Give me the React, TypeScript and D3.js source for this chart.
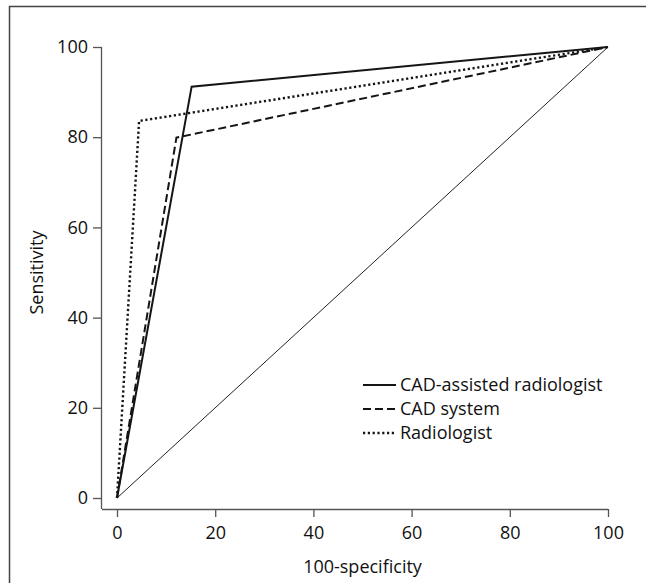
import React, { useEffect, useRef } from 'react'
import * as d3 from 'd3'

const xTicks = [0, 20, 40, 60, 80, 100]
const yTicks = [0, 20, 40, 60, 80, 100]

const seriesNames = ['CAD-assisted radiologist', 'CAD system', 'Radiologist']
const cadAssisted = [[0, 0], [15.2, 91.2], [100, 100]]
const cadSystem = [[0, 0], [12.1, 79.9], [100, 100]]
const radiologist = [[0, 0], [4.5, 83.6], [100, 100]]
const chance = [[0, 0], [100, 100]]

const dashes = ['none', '8,4', '2.2,2.6']
const widths = [2, 2, 2.4]

export default function App() {
  const ref = useRef<SVGSVGElement>(null)

  useEffect(() => {
    const svg = d3.select(ref.current)
    svg.selectAll('*').remove()

    const x = d3.scaleLinear().domain([0, 100]).range([117, 608])
    const y = d3.scaleLinear().domain([0, 100]).range([498, 47])
    const axisX = 102, axisY = 509
    const font = "'Open Sans', sans-serif"
    const axisColor = '#555'
    const fs = 18

    // frame (top and left only)
    svg.append('path')
      .attr('d', 'M9.5,583V6.5H646')
      .attr('fill', 'none')
      .attr('stroke', '#444')
      .attr('stroke-width', 1.5)

    // axes
    const gx = svg.append('g').attr('transform', `translate(0,${axisY})`)
    gx.call(d3.axisBottom(x).tickValues(xTicks).tickSize(8).tickSizeOuter(0))
    gx.select('.domain').attr('d', `M${axisX},0.5H${x(100)}`)
    gx.selectAll('line').attr('stroke', axisColor).attr('stroke-width', 1.3)
    gx.select('.domain').attr('stroke', axisColor).attr('stroke-width', 1.3)
    gx.selectAll('.tick text').attr('font-size', fs).attr('font-family', font).attr('fill', '#111').attr('dy', '1.05em')

    const gy = svg.append('g').attr('transform', `translate(${axisX},0)`)
    gy.call(d3.axisLeft(y).tickValues(yTicks).tickSize(9).tickSizeOuter(0))
    gy.select('.domain').attr('d', `M-0.5,${y(100)}V${axisY}`)
    gy.selectAll('line').attr('stroke', axisColor).attr('stroke-width', 1.3)
    gy.select('.domain').attr('stroke', axisColor).attr('stroke-width', 1.3)
    gy.selectAll('.tick text').attr('font-size', fs).attr('font-family', font).attr('fill', '#111').attr('x', -14)

    svg.append('text')
      .attr('x', (x(0) + x(100)) / 2)
      .attr('y', 573)
      .attr('text-anchor', 'middle')
      .attr('font-size', fs)
      .attr('font-family', font)
      .attr('fill', '#111')
      .text('100-specificity')

    svg.append('text')
      .attr('transform', `translate(43,${(y(0) + y(100)) / 2}) rotate(-90)`)
      .attr('text-anchor', 'middle')
      .attr('font-size', fs)
      .attr('font-family', font)
      .attr('fill', '#111')
      .text('Sensitivity')

    const line = d3.line<number[]>().x(d => x(d[0])).y(d => y(d[1]))

    svg.append('path')
      .attr('d', line(chance))
      .attr('fill', 'none')
      .attr('stroke', '#222')
      .attr('stroke-width', 1)

    const all = [cadAssisted, cadSystem, radiologist]
    all.forEach((s, i) => {
      svg.append('path')
        .attr('d', line(s))
        .attr('fill', 'none')
        .attr('stroke', '#151515')
        .attr('stroke-width', widths[i])
        .attr('stroke-linejoin', 'miter')
        .attr('stroke-dasharray', dashes[i])
    })

    // legend
    const lg = svg.append('g').attr('transform', 'translate(363,385)')
    seriesNames.forEach((name, i) => {
      const row = lg.append('g').attr('transform', `translate(0,${i * 24})`)
      row.append('line')
        .attr('x1', 0).attr('x2', 33)
        .attr('stroke', '#151515')
        .attr('stroke-width', widths[i])
        .attr('stroke-dasharray', dashes[i])
      row.append('text')
        .attr('x', 37)
        .attr('dy', '0.35em')
        .attr('font-size', fs)
        .attr('font-family', font)
        .attr('fill', '#111')
        .text(name)
    })
  }, [])

  return (
    <svg ref={ref} width={646} height={583} style={{ position: 'absolute', left: 0, top: 0, background: '#fff' }} />
  )
}
